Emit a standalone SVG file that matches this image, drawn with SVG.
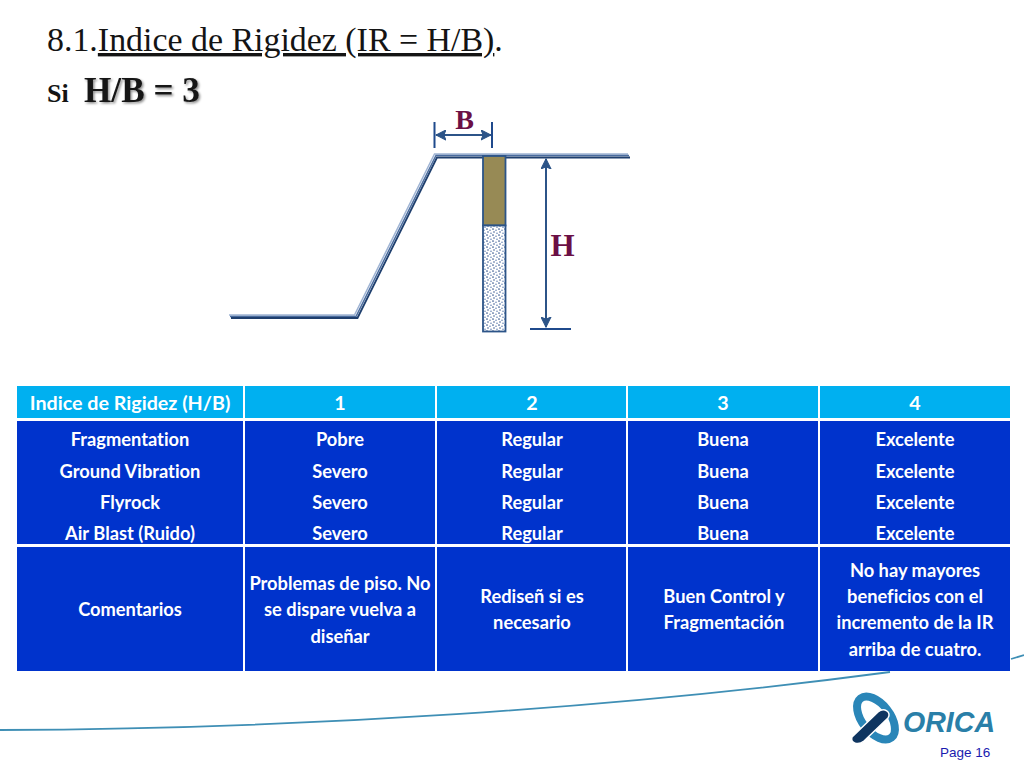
<svg xmlns="http://www.w3.org/2000/svg" width="1024" height="768" viewBox="0 0 1024 768">
<style>
.ttl{font-family:"Liberation Serif",serif;fill:#141414}
.lbl{font-family:"Liberation Serif",serif;font-weight:bold;fill:#6b0f45;text-anchor:middle}
.c{font-family:Lato,"Open Sans",sans-serif;font-weight:bold;font-size:18.3px;fill:#fff;text-anchor:middle;font-variant-ligatures:none}
.hd{font-size:19.7px}
.h{fill:#00b0f0}.b{fill:#0033cc}
.dim{stroke:#2c5488;stroke-width:2;fill:none}
</style>
<defs>
<marker id="ah" viewBox="0 0 10 10" refX="9.5" refY="5" markerWidth="11" markerHeight="11" markerUnits="userSpaceOnUse" orient="auto-start-reverse"><path d="M0.5 0.5L9.5 5L0.5 9.5L2.500 5Z" fill="#2c5488" stroke="#2c5488" stroke-width="1"/></marker>
<pattern id="st" width="6" height="6" patternUnits="userSpaceOnUse"><rect width="6" height="6" fill="#fff"/><circle cx="1" cy="1" r=".85" fill="#3a5a90"/><circle cx="4" cy="2.200" r=".8" fill="#6a86b4"/><circle cx="2" cy="4" r=".8" fill="#3a5a90"/><circle cx="5" cy="5.200" r=".8" fill="#6a86b4"/></pattern>
<filter id="sh" x="-10%" y="-20%" width="120%" height="150%"><feDropShadow dx="1.500" dy="1.500" stdDeviation="1.200" flood-color="#000" flood-opacity=".45"/></filter>
</defs>
<rect width="1024" height="768" fill="#fff"/>
<g id="title">
<text class="ttl" x="47" y="51" font-size="33.9">8.1.<tspan text-decoration="underline">Indice de Rigidez (IR = H/B)</tspan>.</text>
<text class="ttl" x="47" y="102" font-size="26" font-weight="bold">Si</text>
<text class="ttl" x="84" y="102" font-size="35.200" font-weight="bold" filter="url(#sh)">H/B = 3</text>
</g>
<g id="swoosh" fill="none">
<path d="M0 730C300 729 620 708 890 672" stroke="#3f8fb5" stroke-width="1.800"/>
<path d="M1011 659L1024 655" stroke="#3f8fb5" stroke-width="1.800"/>
</g>
<g id="bench">
<path d="M229 315H354.500L434.500 154H628" fill="none" stroke="#9fb4d4" stroke-width="1.500"/>
<path d="M230 316.500H356L436 155.500H629" fill="none" stroke="#4a6c9e" stroke-width="1.500"/>
<path d="M231 318H357.500L437 157.500H630" fill="none" stroke="#1f3f6e" stroke-width="1.800"/>
</g>
<g id="hole" stroke="#2c5488" stroke-width="1.800">
<rect x="483" y="156" width="22.500" height="69.500" fill="#978a55"/>
<rect x="483" y="225.500" width="22.500" height="106" fill="url(#st)"/>
</g>
<g id="connectors">
<path class="dim" style="stroke:#1f4a8c" d="M434.500 122V148M492 122V148"/>
<path class="dim" d="M436 135H491" marker-start="url(#ah)" marker-end="url(#ah)"/>
<path class="dim" d="M546 159V327" marker-start="url(#ah)" marker-end="url(#ah)"/>
<path class="dim" style="stroke:#1f4a8c" d="M530 329H571"/>
</g>
<g id="label-B"><text class="lbl" font-size="28" x="464.500" y="129">B</text></g>
<g id="label-H"><text class="lbl" font-size="31" x="562.500" y="256">H</text></g>
<g id="table">
<g id="row-header">
<rect class="h" x="17" y="386" width="226" height="32"/><rect class="h" x="245" y="386" width="190" height="32"/><rect class="h" x="437" y="386" width="189" height="32"/><rect class="h" x="628" y="386" width="190" height="32"/><rect class="h" x="820" y="386" width="190" height="32"/>
<text class="c hd" x="130" y="409.500">Indice de Rigidez (H/B)</text><text class="c hd" x="340" y="409.500">1</text><text class="c hd" x="532" y="409.500">2</text><text class="c hd" x="723" y="409.500">3</text><text class="c hd" x="915" y="409.500">4</text>
</g>
<g id="row-metrics">
<rect class="b" x="17" y="421" width="226" height="123"/><rect class="b" x="245" y="421" width="190" height="123"/><rect class="b" x="437" y="421" width="189" height="123"/><rect class="b" x="628" y="421" width="190" height="123"/><rect class="b" x="820" y="421" width="190" height="123"/>
<text class="c" x="130" y="445.500">Fragmentation</text><text class="c" x="340" y="445.500">Pobre</text><text class="c" x="532" y="445.500">Regular</text><text class="c" x="723" y="445.500">Buena</text><text class="c" x="915" y="445.500">Excelente</text>
<text class="c" x="130" y="477.500">Ground Vibration</text><text class="c" x="340" y="477.500">Severo</text><text class="c" x="532" y="477.500">Regular</text><text class="c" x="723" y="477.500">Buena</text><text class="c" x="915" y="477.500">Excelente</text>
<text class="c" x="130" y="508.500">Flyrock</text><text class="c" x="340" y="508.500">Severo</text><text class="c" x="532" y="508.500">Regular</text><text class="c" x="723" y="508.500">Buena</text><text class="c" x="915" y="508.500">Excelente</text>
<text class="c" x="130" y="539.500">Air Blast (Ruido)</text><text class="c" x="340" y="539.500">Severo</text><text class="c" x="532" y="539.500">Regular</text><text class="c" x="723" y="539.500">Buena</text><text class="c" x="915" y="539.500">Excelente</text>
</g>
<g id="row-comments">
<rect class="b" x="17" y="547" width="226" height="124"/><rect class="b" x="245" y="547" width="190" height="124"/><rect class="b" x="437" y="547" width="189" height="124"/><rect class="b" x="628" y="547" width="190" height="124"/><rect class="b" x="820" y="547" width="190" height="124"/>
<text class="c" x="130" y="616">Comentarios</text>
<text class="c" x="340" y="590">Problemas de piso. No</text><text class="c" x="340" y="616">se dispare vuelva a</text><text class="c" x="340" y="643">diseñar</text>
<text class="c" x="532" y="602.500">Rediseñ si es</text><text class="c" x="532" y="629">necesario</text>
<text class="c" x="724" y="602.500">Buen Control y</text><text class="c" x="724" y="629">Fragmentación</text>
<text class="c" x="915" y="576.500">No hay mayores</text><text class="c" x="915" y="602.500">beneficios con el</text><text class="c" x="915" y="629">incremento de la IR</text><text class="c" x="915" y="655.500">arriba de cuatro.</text>
</g>
</g>
<g id="logo">
<ellipse cx="876" cy="718" rx="25" ry="14" transform="rotate(52 876 718)" fill="none" stroke="#2a86b8" stroke-width="8"/>
<path d="M852 737L878 712C884 707 892 712 888 718L864 741C858 746 850 743 852 737Z" fill="#0f3560" stroke="#fff" stroke-width="1.500"/>
<text x="903" y="732" font-family="Liberation Sans,sans-serif" font-weight="bold" font-style="italic" font-size="30" fill="#2a7fa8" textLength="92" lengthAdjust="spacingAndGlyphs">ORICA</text>
</g>
<g id="page"><text x="940" y="757" font-family="Liberation Sans,sans-serif" font-size="13.500" fill="#1a1ab0">Page 16</text></g>
</svg>
